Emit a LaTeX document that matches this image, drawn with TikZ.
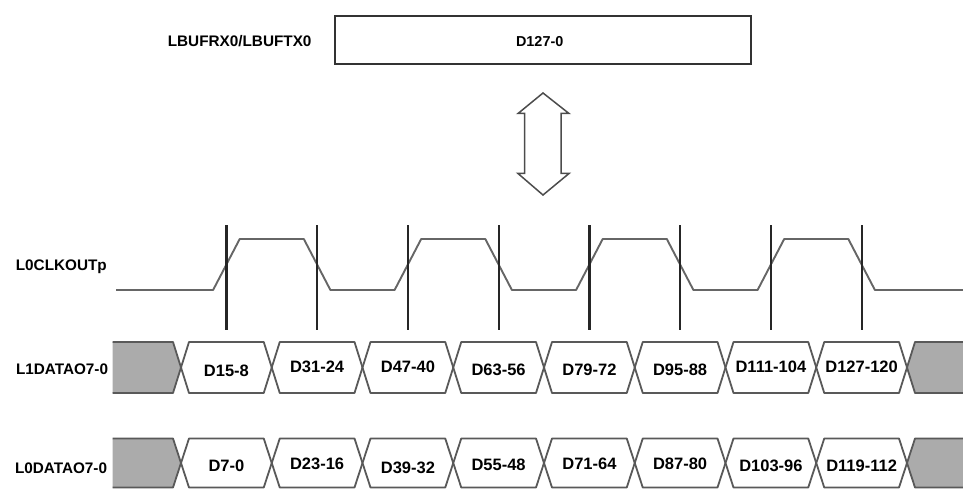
\documentclass[tikz,border=0pt]{standalone}
\usepackage{fontspec}
\setmainfont{Liberation Sans}
\begin{document}
\begin{tikzpicture}[x=1pt,y=-1pt,
  lbl/.style={font=\fontsize{15.3}{18}\selectfont\bfseries, anchor=base east, inner sep=0pt},
  celltxt/.style={font=\fontsize{16.5}{19}\selectfont\bfseries, anchor=base, inner sep=0pt},
  wave/.style={draw=black!60, line width=1.9pt, line join=round},
  edgeline/.style={draw=black!85, line width=2.3pt},
  cellline/.style={draw=black!65, line width=1.8pt, line join=round},
  grayfill/.style={fill=black!33}]
\useasboundingbox (0,0) rectangle (963,489);

% top buffer box
\node[draw=black!80, line width=2.2pt, minimum width=415.5, minimum height=48, inner sep=0pt] (buf) at (543,39.8) {};
\node[font=\fontsize{14.4}{17}\selectfont\bfseries, inner sep=0pt] (buftxt) at (539.7,41.5) {D127-0};
\node[lbl] (buflbl) at (311.7,47) {LBUFRX0/LBUFTX0};

% double arrow
\draw[draw=black!70, line width=1.5pt, line join=miter] (543,93) -- (569,113.5) -- (561,113.5) -- (561,173.5) -- (569,173.5) -- (543,195) -- (518,173.5) -- (524.5,173.5) -- (524.5,113.5) -- (518,113.5) -- cycle;

% clock
\node[lbl] (clklbl) at (107,270.7) {L0CLKOUTp};
\draw[wave] (116,290) \foreach \k in {0,...,3} { -- ({213.1+181.5*\k},290) -- ({239.7+181.5*\k},239) -- ({303.8+181.5*\k},239) -- ({330.4+181.5*\k},290) } -- (963,290);
\foreach \i in {0,...,7} \draw[edgeline] ({226.4+90.75*\i},225) -- ({226.4+90.75*\i},330);

% data rows
\node[lbl] (l1lbl) at (108.3,374) {L1DATAO7-0};
\node[lbl] (l0lbl) at (107.3,473.3) {L0DATAO7-0};

% rows: top, bottom
\def\rowA{342}\def\rowAb{393}\def\rowAm{367.5}
\def\rowB{438.5}\def\rowBb{487.5}\def\rowBm{463}

% gray boxes and cells
\foreach \t/\b/\m in {\rowA/\rowAb/\rowAm, \rowB/\rowBb/\rowBm} {
  \fill[grayfill] (112.7,\t) -- (173,\t) -- (181,\m) -- (173,\b) -- (112.7,\b) -- cycle;
  \draw[cellline] (112.7,\t) -- (173,\t) -- (181,\m) -- (173,\b) -- (112.7,\b);
  \fill[grayfill] (966,\t) -- (915,\t) -- (907,\m) -- (915,\b) -- (966,\b) -- cycle;
  \draw[cellline] (966,\t) -- (915,\t) -- (907,\m) -- (915,\b) -- (966,\b);
  \foreach \i in {0,...,7} {
    \pgfmathsetmacro{\ca}{181+90.75*\i}
    \pgfmathsetmacro{\cb}{181+90.75*(\i+1)}
    \draw[cellline, fill=white] (\ca,\m) -- (\ca+8,\t) -- (\cb-8,\t) -- (\cb,\m) -- (\cb-8,\b) -- (\ca+8,\b) -- cycle;
  }
}

% cell texts L1
\node[celltxt] (a1) at (226.4,376) {D15-8};
\node[celltxt] (a2) at (317.1,372.7) {D31-24};
\node[celltxt] (a3) at (407.9,372.7) {D47-40};
\node[celltxt] (a4) at (498.6,375) {D63-56};
\node[celltxt] (a5) at (589.4,375.3) {D79-72};
\node[celltxt] (a6) at (680.1,375.3) {D95-88};
\node[celltxt] (a7) at (770.9,372.7) {D111-104};
\node[celltxt] (a8) at (861.6,372.7) {D127-120};
% cell texts L0
\node[celltxt] (b1) at (226.4,471) {D7-0};
\node[celltxt] (b2) at (317.1,469.3) {D23-16};
\node[celltxt] (b3) at (407.9,473.3) {D39-32};
\node[celltxt] (b4) at (498.6,470) {D55-48};
\node[celltxt] (b5) at (589.4,469.3) {D71-64};
\node[celltxt] (b6) at (680.1,469.3) {D87-80};
\node[celltxt] (b7) at (770.9,471.7) {D103-96};
\node[celltxt] (b8) at (861.6,471.7) {D119-112};
\end{tikzpicture}
\end{document}
